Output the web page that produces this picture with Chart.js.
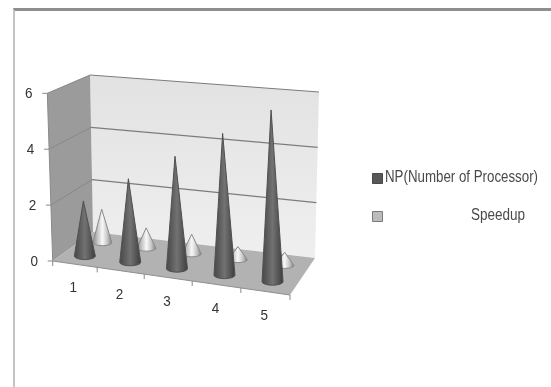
<!DOCTYPE html>
<html>
<head>
<meta charset="utf-8">
<title>NP and Speedup</title>
<script src="https://cdn.jsdelivr.net/npm/chart.js@4/dist/chart.umd.js"></script>
<style>
  html, body { margin: 0; padding: 0; background: #fff; }
  #wrap { position: relative; width: 551px; height: 387px; overflow: hidden; }
  #frame { position: absolute; left: 13px; top: 8px; width: 560px; height: 400px;
           border-top: 3px solid #8e8e8e; border-left: 2px solid #c4c4c4; }
  canvas { position: absolute; left: 0; top: 0; }
</style>
</head>
<body>
<div id="wrap">
  <div id="frame"></div>
  <canvas id="chart" width="551" height="387"></canvas>
</div>
<script>
const categories = ['1', '2', '3', '4', '5'];
const npValues = [2, 3, 4, 5, 6];
const speedupValues = [1.25, 0.75, 0.72, 0.47, 0.47];
const seriesNames = ['NP(Number of Processor)', 'Speedup'];

// corners of the 3D box, [front, back] x [left, right] x [floor, top]
const box = {
  flb: [52.7, 261], frb: [290, 295], blb: [93, 232], brb: [315, 258],
  flt: [47.3, 93.3], frt: [287, 120], blt: [90, 75], brt: [319, 92]
};
const depthOf = { np: 0.27, speedup: 0.72 };

function mix(a, b, t) {
  return [a[0] + (b[0] - a[0]) * t, a[1] + (b[1] - a[1]) * t];
}

// u along the category axis, d into the depth, v up the value axis (all 0..1)
function project(u, d, v) {
  // categories get a little wider toward the right, as in perspective
  const s = Math.pow(u, 1.04);
  const front = mix(mix(box.flb, box.frb, s), mix(box.flt, box.frt, s), v);
  const back = mix(mix(box.blb, box.brb, s), mix(box.blt, box.brt, s), v);
  return mix(front, back, d);
}

function poly(ctx, pts, fill) {
  ctx.beginPath();
  pts.forEach((p, i) => i ? ctx.lineTo(p[0], p[1]) : ctx.moveTo(p[0], p[1]));
  ctx.closePath();
  ctx.fillStyle = fill;
  ctx.fill();
}

function segment(ctx, a, b, color, width) {
  ctx.beginPath();
  ctx.moveTo(a[0], a[1]);
  ctx.lineTo(b[0], b[1]);
  ctx.strokeStyle = color;
  ctx.lineWidth = width;
  ctx.stroke();
}

function drawCone(ctx, base, tip, rx, ry, stops, rim) {
  const g = ctx.createLinearGradient(base[0] - rx, 0, base[0] + rx, 0);
  stops.forEach((c, i) => g.addColorStop(i / (stops.length - 1), c));
  ctx.beginPath();
  ctx.moveTo(tip[0], tip[1]);
  ctx.lineTo(base[0] + rx, base[1]);
  ctx.ellipse(base[0], base[1], rx, ry, 0, 0, Math.PI);
  ctx.closePath();
  ctx.fillStyle = g;
  ctx.fill();
  ctx.strokeStyle = rim;
  ctx.lineWidth = 1;
  ctx.lineJoin = 'round';
  ctx.stroke();
}

const box3d = {
  id: 'box3d',
  beforeDatasetsDraw(chart) {
    const ctx = chart.ctx;
    const yScale = chart.scales.y;
    const xScale = chart.scales.x;
    const vOf = val => (yScale.getPixelForValue(0) - yScale.getPixelForValue(val)) /
                       (yScale.getPixelForValue(0) - yScale.getPixelForValue(yScale.max));
    const uOf = px => (px - xScale.left) / xScale.width;

    // back wall
    const wall = ctx.createLinearGradient(0, 75, 0, 258);
    wall.addColorStop(0, '#e2e2e2');
    wall.addColorStop(1, '#efefef');
    poly(ctx, [project(0, 1, 0), project(1, 1, 0), project(1, 1, 1), project(0, 1, 1)], wall);

    // side wall
    poly(ctx, [project(0, 0, 0), project(0, 1, 0), project(0, 1, 1), project(0, 0, 1)], '#9b9b9b');

    // floor
    poly(ctx, [project(0, 0, 0), project(1, 0, 0), project(1, 1, 0), project(0, 1, 0)], '#b2b2b2');

    // gridlines over both walls, skipping the floor line
    yScale.ticks.forEach(t => {
      const v = vOf(t.value);
      if (v > 0) {
        segment(ctx, project(0, 0, v), project(0, 1, v), '#888888', 1);
        segment(ctx, project(0, 1, v), project(1, 1, v), '#7c7c7c', 1.2);
      }
    });
    segment(ctx, project(0, 0, 0), project(0, 0, 1), '#8a8a8a', 1);
    segment(ctx, project(0, 0, 0), project(1, 0, 0), '#8e8e8e', 1);

    // value axis ticks and labels
    ctx.font = '15px "Liberation Sans"';
    ctx.textAlign = 'center';
    ctx.textBaseline = 'middle';
    yScale.ticks.forEach(t => {
      const p = project(0, 0, vOf(t.value));
      segment(ctx, p, [p[0] - 5, p[1]], '#8a8a8a', 1);
      ctx.fillStyle = '#333333';
      ctx.fillText(t.label, p[0] - 18.5, p[1] + 1, 7.5);
    });

    // category ticks sit between the categories
    const step = 1 / categories.length;
    for (let i = 0; i <= categories.length; i++) {
      const p = project(i * step, 0, 0);
      segment(ctx, p, [p[0], p[1] + 5], '#8a8a8a', 1);
    }
    categories.forEach((c, i) => {
      const p = project(uOf(xScale.getPixelForValue(i)), 0, 0);
      ctx.fillStyle = '#333333';
      ctx.fillText(c, p[0] - 1, p[1] + 24, 7.5);
    });
  },
  afterDatasetsDraw(chart) {
    const ctx = chart.ctx;
    const xScale = chart.scales.x;
    const yScale = chart.scales.y;
    const place = (bar, d) => {
      const u = (bar.x - xScale.left) / xScale.width;
      const v = (bar.base - bar.y) / (yScale.getPixelForValue(0) - yScale.getPixelForValue(yScale.max));
      return { base: project(u, d, 0), tip: project(u, d, v) };
    };

    // rear series first so the front cones cover it
    chart.getDatasetMeta(1).data.forEach(bar => {
      const c = place(bar, depthOf.speedup);
      drawCone(ctx, c.base, c.tip, 9.5, 3, ['#8c8c8c', '#c4c4c4', '#f8f8f8', '#c8c8c8', '#808080'], '#8a8a8a');
    });
    chart.getDatasetMeta(0).data.forEach(bar => {
      const c = place(bar, depthOf.np);
      drawCone(ctx, c.base, c.tip, 10.5, 3.5, ['#484848', '#5c5c5c', '#727272', '#585858', '#3c3c3c'], '#505050');
    });

    // legend
    const keys = [
      { x: 372, y: 173, fill: '#585858', line: '#4a4a4a' },
      { x: 372, y: 211, fill: '#bcbcbc', line: '#7a7a7a' }
    ];
    keys.forEach(k => {
      ctx.fillStyle = k.fill;
      ctx.strokeStyle = k.line;
      ctx.lineWidth = 1;
      ctx.fillRect(k.x + 0.5, k.y + 0.5, 10, 10);
      ctx.strokeRect(k.x + 0.5, k.y + 0.5, 10, 10);
    });
    ctx.fillStyle = '#4a4a4a';
    ctx.font = '16px "Liberation Sans"';
    ctx.textAlign = 'left';
    ctx.textBaseline = 'middle';
    ctx.fillText(seriesNames[0], 385, 178, 153);
    ctx.fillText(seriesNames[1], 471, 216, 54);
  }
};

new Chart(document.getElementById('chart'), {
  type: 'bar',
  data: {
    labels: categories,
    datasets: [
      { label: seriesNames[0], data: npValues, backgroundColor: 'transparent' },
      { label: seriesNames[1], data: speedupValues, backgroundColor: 'transparent' }
    ]
  },
  options: {
    responsive: false,
    animation: false,
    plugins: { legend: { display: false }, tooltip: { enabled: false } },
    scales: {
      // stacked x keeps both series on the category centre, depth separates them
      x: { display: false, stacked: true },
      y: { display: false, min: 0, max: 6, ticks: { stepSize: 2 } }
    }
  },
  plugins: [box3d]
});
</script>
</body>
</html>
